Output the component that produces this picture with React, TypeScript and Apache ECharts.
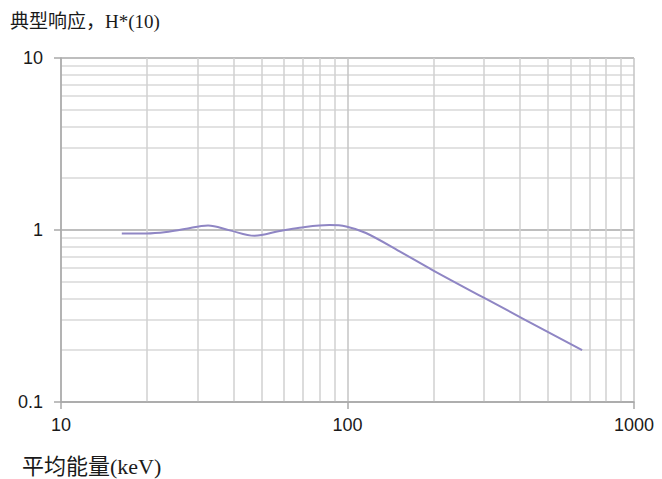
import React, { useEffect, useRef } from "react";
import * as echarts from "echarts";

const energies = [16.3, 19.9, 23.3, 27, 32.6, 38.8, 47.4, 58, 68, 86.5, 98.9, 116, 152, 198, 299, 659];
const responses = [0.955, 0.955, 0.974, 1.013, 1.063, 0.995, 0.926, 0.987, 1.031, 1.069, 1.049, 0.961, 0.751, 0.585, 0.404, 0.2];
const yTitle = "典型响应，H*(10)";
const xTitle = "平均能量(keV)";

export default function App() {
  const ref = useRef<HTMLDivElement>(null);
  useEffect(() => {
    const chart = echarts.init(ref.current!, null, { renderer: "svg" });
    const labelStyle = { color: "#1a1a1a", fontSize: 18, fontFamily: "Liberation Sans, Arial, sans-serif" };
    chart.setOption({
      animation: false,
      grid: { left: 61, right: 28, top: 58, bottom: 77 },
      xAxis: {
        type: "log",
        logBase: 10,
        min: 10,
        max: 1000,
        axisLine: { show: true, lineStyle: { color: "#a8a8a8", width: 1.5 } },
        axisTick: { show: true, length: 7, lineStyle: { color: "#a8a8a8", width: 1.5 } },
        axisLabel: { ...labelStyle, margin: 14, formatter: (v: number) => String(v) },
        splitLine: { show: true, lineStyle: { color: "#c4c4c4", width: 1.5 } },
        minorTick: { show: false, splitNumber: 9 },
        minorSplitLine: { show: true, lineStyle: { color: "#d0d0d0", width: 1.5 } },
      },
      yAxis: {
        type: "log",
        logBase: 10,
        min: 0.1,
        max: 10,
        axisLine: { show: true, lineStyle: { color: "#a8a8a8", width: 1.5 } },
        axisTick: { show: true, length: 7, lineStyle: { color: "#a8a8a8", width: 1.5 } },
        axisLabel: { ...labelStyle, margin: 18 },
        splitLine: { show: true, lineStyle: { color: "#a8a8a8", width: 1.5 } },
        minorTick: { show: false, splitNumber: 9 },
        minorSplitLine: { show: true, lineStyle: { color: "#d8d8d8", width: 1.5 } },
      },
      graphic: [
        {
          type: "text",
          left: 10,
          top: 12,
          style: { text: yTitle, fill: "#1a1a1a", fontSize: 19, fontFamily: "Liberation Serif, Noto Sans CJK SC, serif" },
        },
        {
          type: "text",
          left: 22,
          top: 455,
          style: { text: xTitle, fill: "#1a1a1a", fontSize: 22, fontFamily: "Liberation Serif, Noto Sans CJK SC, serif" },
        },
      ],
      series: [
        {
          type: "line",
          data: energies.map((e, i) => [e, responses[i]]),
          smooth: 0.35,
          showSymbol: false,
          symbol: "none",
          lineStyle: { color: "#8f86c4", width: 2 },
        },
      ],
    });
    return () => chart.dispose();
  }, []);
  return <div ref={ref} style={{ width: 662, height: 479, position: "absolute", left: 0, top: 0 }} />;
}
